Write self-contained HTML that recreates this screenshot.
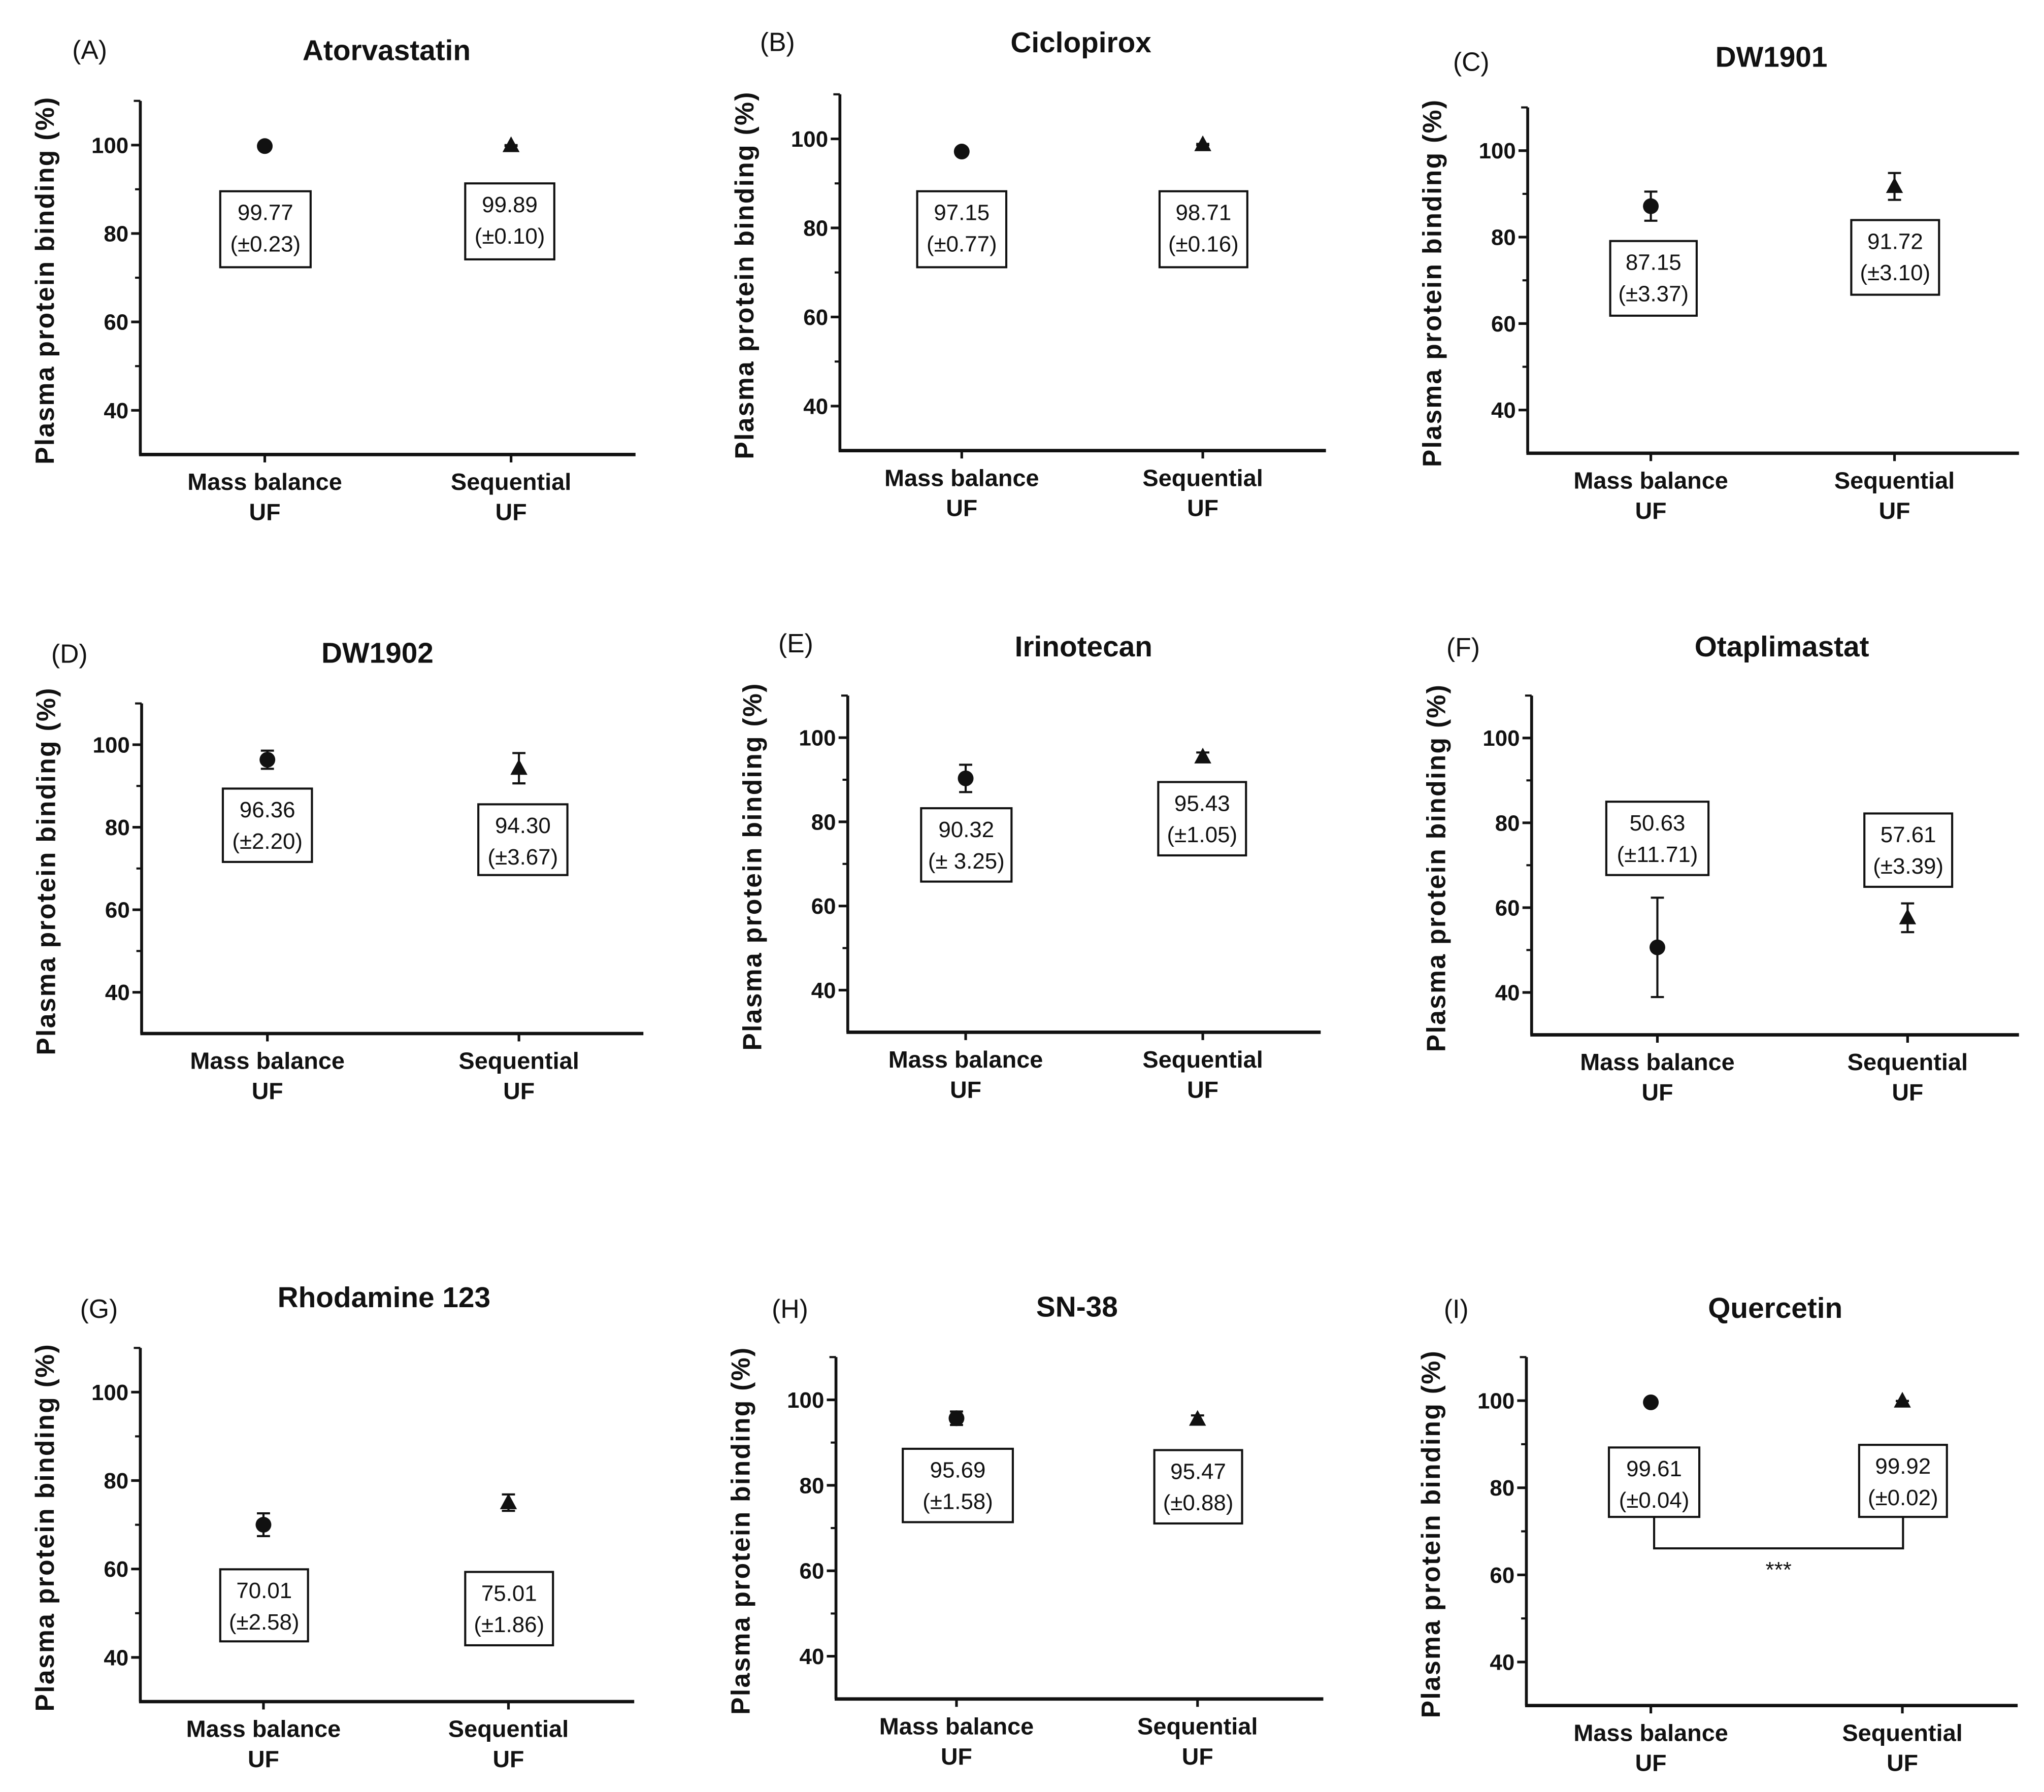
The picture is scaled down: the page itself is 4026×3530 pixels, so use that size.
<!DOCTYPE html>
<html><head><meta charset="utf-8"><style>
html,body{margin:0;padding:0;background:#fff}
svg{display:block}
text{font-family:"Liberation Sans",Arial,sans-serif;fill:#111}
</style></head><body>
<svg id="chart" width="4026" height="3530" viewBox="0 0 1560 1368" xmlns="http://www.w3.org/2000/svg"></svg>
<script>
const drugs = ["Atorvastatin","Ciclopirox","DW1901","DW1902","Irinotecan","Otaplimastat","Rhodamine 123","SN-38","Quercetin"];
const letters = ["(A)","(B)","(C)","(D)","(E)","(F)","(G)","(H)","(I)"];
const categories = ["Mass balance", "Sequential"];
const massMeans = [99.77, 97.15, 87.15, 96.36, 90.32, 50.63, 70.01, 95.69, 99.61];
const massSD = [0.23, 0.77, 3.37, 2.20, 3.25, 11.71, 2.58, 1.58, 0.04];
const seqMeans = [99.89, 98.71, 91.72, 94.30, 95.43, 57.61, 75.01, 95.47, 99.92];
const seqSD = [0.10, 0.16, 3.10, 3.67, 1.05, 3.39, 1.86, 0.88, 0.02];
const massLabels = ["99.77","97.15","87.15","96.36","90.32","50.63","70.01","95.69","99.61"];
const massSDLabels = ["(±0.23)","(±0.77)","(±3.37)","(±2.20)","(± 3.25)","(±11.71)","(±2.58)","(±1.58)","(±0.04)"];
const seqLabels = ["99.89","98.71","91.72","94.30","95.43","57.61","75.01","95.47","99.92"];
const seqSDLabels = ["(±0.10)","(±0.16)","(±3.10)","(±3.67)","(±1.05)","(±3.39)","(±1.86)","(±0.88)","(±0.02)"];
const yTicks = [40, 60, 80, 100];
const yMinor = [50, 70, 90];
const yMin = 30, yMax = 110;

const layout = [
 {ax:107,top:77,bot:347,right:485,c:[202,390],tx:295,ty:46,lx:55,ly:45,b:[[168,146,69,58],[355,140,68,58]]},
 {ax:641,top:72,bot:344,right:1012,c:[734,918],tx:825,ty:40,lx:580,ly:39,b:[[700,146,68,58],[885,146,67,58]]},
 {ax:1166,top:82,bot:346,right:1541,c:[1260,1446],tx:1352,ty:51,lx:1109,ly:54,b:[[1229,184,66,57],[1413,168,67,57]]},
 {ax:108,top:537,bot:789,right:491,c:[204,396],tx:288,ty:506,lx:39,ly:506,b:[[170,602,68,56],[365,614,68,54]]},
 {ax:647,top:531,bot:788,right:1008,c:[737,918],tx:827,ty:501,lx:594,ly:498,b:[[703,617,69,56],[884,597,67,56]]},
 {ax:1169,top:531,bot:790,right:1541,c:[1265,1456],tx:1360,ty:501,lx:1104,ly:501,b:[[1226,612,78,56],[1423,621,67,56]]},
 {ax:107,top:1029,bot:1299,right:484,c:[201,388],tx:293,ty:998,lx:61,ly:1006,b:[[168,1198,67,55],[355,1200,67,56]]},
 {ax:638,top:1036,bot:1297,right:1010,c:[730,914],tx:822,ty:1005,lx:589,ly:1006,b:[[689,1106,84,56],[881,1107,67,56]]},
 {ax:1165,top:1036,bot:1302,right:1540,c:[1260,1452],tx:1355,ty:1006,lx:1102,ly:1006,b:[[1228,1105,69,53],[1419,1103,67,55]]}
];
const svg = document.getElementById('chart');
const NS = 'http://www.w3.org/2000/svg';
function mk(tag, attrs, parent){const e=document.createElementNS(NS,tag);for(const k in attrs)e.setAttribute(k,attrs[k]);parent.appendChild(e);return e;}
function txt(str, attrs, parent){const e=mk('text',attrs,parent);e.textContent=str;return e;}

drugs.forEach((drug,i)=>{
  const L = layout[i];
  const g = mk('g',{},svg);
  
  
  const y = v => L.bot - (v - yMin) / (yMax - yMin) * (L.bot - L.top);
  const lt = txt(letters[i], {x:L.lx, y:L.ly, 'font-size':20}, g);
  
  
  const tt = txt(drug, {x:L.tx, y:L.ty, 'font-size':22, 'font-weight':'bold', 'text-anchor':'middle'}, g);
  
  
  const ya = mk('line',{x1:L.ax,y1:L.top,x2:L.ax,y2:L.bot,stroke:'#111','stroke-width':2.2},g);
  
  
  const xa = mk('line',{x1:L.ax-1,y1:L.bot,x2:L.right,y2:L.bot,stroke:'#111','stroke-width':2.6},g);
  
  
  mk('line',{x1:L.ax-5,y1:L.top,x2:L.ax,y2:L.top,stroke:'#111','stroke-width':1.6},g);
  yTicks.forEach(t=>{
    mk('line',{x1:L.ax-7,y1:y(t),x2:L.ax,y2:y(t),stroke:'#111','stroke-width':2},g);
    const tl = txt(String(t),{x:L.ax-9,y:y(t)+6,'font-size':17,'font-weight':'bold','text-anchor':'end'},g);
    
    
  });
  yMinor.forEach(t=>mk('line',{x1:L.ax-4,y1:y(t),x2:L.ax,y2:y(t),stroke:'#111','stroke-width':1.6},g));
  const cy=(L.top+L.bot)/2+2, cx=L.ax-66;
  const yt = txt('Plasma protein binding (%)',{x:cx,y:cy,'font-size':20,'font-weight':'bold','letter-spacing':'0.9','text-anchor':'middle',transform:`rotate(-90 ${cx} ${cy})`},g);
  
  
  categories.forEach((c,k)=>{
    const x=L.c[k];
    mk('line',{x1:x,y1:L.bot,x2:x,y2:L.bot+6,stroke:'#111','stroke-width':2},g);
    const c1 = txt(c,{x:x,y:L.bot+27,'font-size':18,'font-weight':'bold','text-anchor':'middle',textLength:c.length>10?118:92,lengthAdjust:'spacingAndGlyphs'},g);
    
    
    const c2 = txt('UF',{x:x,y:L.bot+50,'font-size':18,'font-weight':'bold','text-anchor':'middle'},g);
    
    
  });
  const series=[[massMeans[i],massSD[i],massLabels[i],massSDLabels[i]],[seqMeans[i],seqSD[i],seqLabels[i],seqSDLabels[i]]];
  series.forEach((s,k)=>{
    const x=L.c[k], m=s[0], sd=s[1];
    const eg = mk('g',{stroke:'#111','stroke-width':1.6},g);
    
    
    mk('line',{x1:x,y1:y(m+sd),x2:x,y2:y(m-sd)},eg);
    mk('line',{x1:x-5,y1:y(m+sd),x2:x+5,y2:y(m+sd)},eg);
    mk('line',{x1:x-5,y1:y(m-sd),x2:x+5,y2:y(m-sd)},eg);
    let mark;
    if(k===0){ mark = mk('circle',{cx:x,cy:y(m),r:6,fill:'#111'},g); }
    else { const py=y(m); mark = mk('polygon',{points:`${x},${py-7} ${x-6.5},${py+5} ${x+6.5},${py+5}`,fill:'#111'},g); }
    
    
    const b=L.b[k];
    const bg = mk('g',{},g);
    
    
    mk('rect',{x:b[0],y:b[1],width:b[2],height:b[3],fill:'#fff',stroke:'#111','stroke-width':1.6},bg);
    txt(s[2],{x:b[0]+b[2]/2,y:b[1]+22,'font-size':17,'text-anchor':'middle',fill:'#222'},bg);
    txt(s[3],{x:b[0]+b[2]/2,y:b[1]+46,'font-size':17,'text-anchor':'middle',fill:'#222'},bg);
  });
  if(i===8){
    const b0=L.b[0], b1=L.b[1];
    const x0=b0[0]+b0[2]/2, x1=b1[0]+b1[2]/2, by=1182;
    const br = mk('polyline',{points:`${x0},${b0[1]+b0[3]} ${x0},${by} ${x1},${by} ${x1},${b1[1]+b1[3]}`,fill:'none',stroke:'#111','stroke-width':1.6},g);
    
    
    const st = txt('***',{x:(x0+x1)/2,y:1204,'font-size':17,'text-anchor':'middle',fill:'#222'},g);
    
    
  }
});
</script>
</body></html>
